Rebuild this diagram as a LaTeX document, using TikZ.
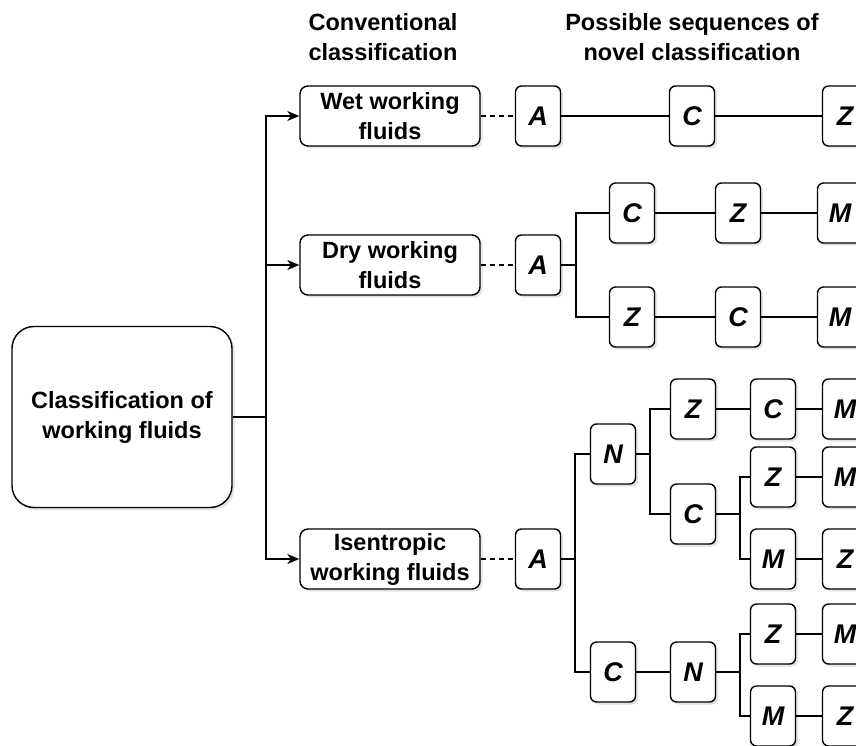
\documentclass[tikz,border=0pt]{standalone}
\usepackage{fontspec}
\setmainfont{Liberation Sans}
\usetikzlibrary{arrows.meta,shadows}

\begin{document}
\begin{tikzpicture}[x=1pt, y=-1pt, line width=1.4pt,
  every node/.style={font=\bfseries\fontsize{23.5}{30}\selectfont, align=center},
  box/.style={draw, fill=white, rounded corners=8pt,
    drop shadow={shadow xshift=2.5pt, shadow yshift=-2.5pt, fill=black!22}},
  root/.style={box, rounded corners=22pt, minimum width=220pt, minimum height=181pt},
  conv/.style={box, minimum width=180pt, minimum height=60pt, inner sep=0pt},
  seq/.style={box, rounded corners=6pt, minimum width=45pt, minimum height=60pt, inner sep=0pt,
    font=\bfseries\itshape\fontsize{27}{30}\selectfont},
  link/.style={-{Stealth[length=12pt, width=10pt, inset=3.5pt]}},
  dots/.style={dash pattern=on 5pt off 4pt}]
\useasboundingbox (0,0) rectangle (856,746);
\clip (0,0) rectangle (856,746);

\node (head1) at (383,37) {Conventional\\classification};
\node (head2) at (692,37) {Possible sequences of\\novel classification};

\node[root] (cls) at (122,417) {Classification of\\working fluids};
\node[conv] (wet) at (390,116) {Wet working\\fluids};
\node[conv] (dry) at (390,265) {Dry working\\fluids};
\node[conv] (ise) at (390,559) {Isentropic\\working fluids};

\coordinate (trunk) at (266,417);
\draw (cls) -- (trunk);
\draw[link] (trunk) |- (wet);
\draw[link] (trunk) |- (dry);
\draw[link] (trunk) |- (ise);

% wet
\node[seq] (wA) at (538,116) {A};
\node[seq] (wC) at (692,116) {C};
\node[seq] (wZ) at (845,116) {Z};
\draw[dots] (wet) -- (wA);
\draw (wA) -- (wC) -- (wZ);

% dry
\node[seq] (dA) at (538,265) {A};
\node[seq] (dC1) at (632,213) {C};
\node[seq] (dZ1) at (738,213) {Z};
\node[seq] (dM1) at (840,213) {M};
\node[seq] (dZ2) at (632,317) {Z};
\node[seq] (dC2) at (738,317) {C};
\node[seq] (dM2) at (840,317) {M};
\coordinate (dB) at (576,265);
\draw[dots] (dry) -- (dA);
\draw (dA) -- (dB) |- (dC1);
\draw (dB) |- (dZ2);
\draw (dC1) -- (dZ1) -- (dM1);
\draw (dZ2) -- (dC2) -- (dM2);

% isentropic
\node[seq] (iA) at (538,559) {A};
\node[seq] (iN) at (613,454) {N};
\node[seq] (iZ1) at (693,409) {Z};
\node[seq] (iC1) at (773,409) {C};
\node[seq] (iM1) at (845,409) {M};
\node[seq] (iC2) at (693,514) {C};
\node[seq] (iZ2) at (773,477) {Z};
\node[seq] (iM2) at (845,477) {M};
\node[seq] (iM3) at (773,559) {M};
\node[seq] (iZ3) at (845,559) {Z};
\node[seq] (iC) at (613,672) {C};
\node[seq] (iN2) at (693,672) {N};
\node[seq] (iZ4) at (773,634) {Z};
\node[seq] (iM4) at (845,634) {M};
\node[seq] (iM5) at (773,716) {M};
\node[seq] (iZ5) at (845,716) {Z};
\coordinate (iB) at (575,559);
\coordinate (iNB) at (650,454);
\coordinate (iCB) at (740,514);
\coordinate (iN2B) at (740,672);
\draw[dots] (ise) -- (iA);
\draw (iA) -- (iB) |- (iN);
\draw (iB) |- (iC);
\draw (iN) -- (iNB) |- (iZ1);
\draw (iNB) |- (iC2);
\draw (iZ1) -- (iC1) -- (iM1);
\draw (iC2) -- (iCB) |- (iZ2);
\draw (iCB) |- (iM3);
\draw (iZ2) -- (iM2);
\draw (iM3) -- (iZ3);
\draw (iC) -- (iN2) -- (iN2B) |- (iZ4);
\draw (iN2B) |- (iM5);
\draw (iZ4) -- (iM4);
\draw (iM5) -- (iZ5);
\end{tikzpicture}
\end{document}
